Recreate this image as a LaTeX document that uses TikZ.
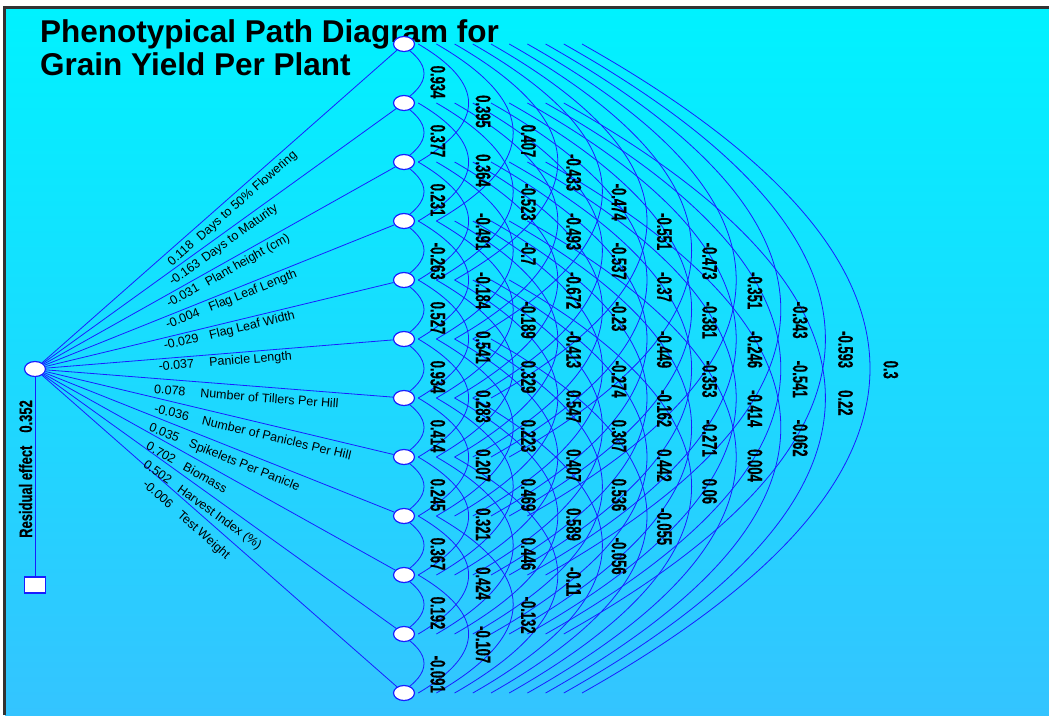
\documentclass[tikz,border=0pt]{standalone}
\usepackage{fontspec}
\setmainfont{Liberation Sans}
\newfontfamily\corrfont[FakeStretch=0.62,FakeBold=0.4]{Liberation Sans}
\newfontfamily\resfont[FakeStretch=0.72,FakeBold=0.4]{Liberation Sans}
\usetikzlibrary{shapes.geometric}
\definecolor{skytop}{RGB}{0,242,255}
\definecolor{skybot}{RGB}{52,196,255}
\definecolor{pathblue}{RGB}{25,30,255}
\pgfdeclarelayer{back}
\pgfdeclarelayer{wires}
\pgfsetlayers{back,wires,main}

\begin{document}
\begin{tikzpicture}[x=1pt,y=1pt,
    trait/.style={ellipse,draw=pathblue,fill=white,line width=1.2pt,
      minimum width=21pt,minimum height=15pt,inner sep=0pt},
    resid/.style={rectangle,draw=pathblue,fill=white,line width=1.2pt,
      minimum width=21pt,minimum height=16pt,inner sep=0pt},
    corr/.style={draw=pathblue,line width=0.8pt},
    corrlab/.style={rotate=-90,anchor=west,inner sep=0pt,
      font=\corrfont\bfseries\fontsize{21}{23}\selectfont},
    pathlab/.style={sloped,anchor=north west,inner xsep=0pt,
      font=\fontsize{12.5}{15}\selectfont}]
  \useasboundingbox (0,0) rectangle (1049,-715);
  \begin{pgfonlayer}{back}
    \fill[white] (0,0) rectangle (1049,-715);
    \shade[top color=skytop,bottom color=skybot] (5,-8) rectangle (1049,-715);
    \draw[line width=2.5pt,black!80] (4.5,-715) -- (4.5,-7.5) -- (1049,-7.5);
    \node[anchor=base west,inner sep=0pt,font=\bfseries\fontsize{31.5}{36}\selectfont]
      (title1) at (40,-42) {Phenotypical Path Diagram for};
    \node[anchor=base west,inner sep=0pt,font=\bfseries\fontsize{31.5}{36}\selectfont]
      (title2) at (40,-75) {Grain Yield Per Plant};
  \end{pgfonlayer}

  % grain yield and residual
  \node[trait] (L) at (35,-369) {};
  \node[resid] (R) at (35,-585) {};
  \node[rotate=90,anchor=base west,inner sep=0pt,
    font=\resfont\bfseries\fontsize{18}{20}\selectfont]
    (restext) at (32,-538) {Residual effect\hspace{13pt}0.352};

  % the twelve traits
  \foreach \i in {1,...,12}
    \node[trait] (T\i) at (404,{-44-59*(\i-1)}) {};

  \begin{pgfonlayer}{wires}
    \draw[corr] (L) -- (R);
    \foreach \i in {1,...,12}
      \draw[corr] (L) -- (T\i);
  \end{pgfonlayer}

  % direct effects
  \foreach \coef/\name/\pa/\pb/\gap [count=\i] in {
      0.118/Days to 50\% Flowering/0.347/0.425/4.5pt,
      -0.163/Days to Maturity/0.352/0.44/4pt,
      -0.031/Plant height (cm)/0.347/0.452/3.5pt,
      -0.004/Flag Leaf Length/0.347/0.463/3pt,
      -0.029/Flag Leaf Width/0.344/0.467/3pt,
      -0.037/Panicle Length/0.333/0.47/2.5pt,
      0.078/Number of Tillers Per Hill/0.325/0.45/6pt,
      -0.036/Number of Panicles Per Hill/0.33/0.46/6pt,
      0.035/Spikelets Per Panicle/0.322/0.43/6.5pt,
      0.702/Biomass/0.32/0.42/7pt,
      0.502/Harvest Index (\%)/0.317/0.41/7.5pt,
      -0.006/Test Weight/0.32/0.415/8pt}
    \path (L.center) -- (T\i.center)
      node[pathlab,inner ysep=\gap,pos=\pa] {\coef}
      node[pathlab,inner ysep=\gap,pos=\pb] {\name};

  % correlations, one column per distance
  \foreach \vals [count=\k] in {
      {0.934,0.377,0.231,-0.263,0.527,0.934,0.414,0.245,0.367,0.192,-0.091},
      {0.395,0.364,-0.491,-0.184,0.541,0.283,0.207,0.321,0.424,-0.107},
      {0.407,-0.523,-0.7,-0.189,0.329,0.223,0.469,0.446,-0.132},
      {-0.433,-0.493,-0.672,-0.413,0.547,0.407,0.589,-0.11},
      {-0.474,-0.537,-0.23,-0.274,0.307,0.536,-0.056},
      {-0.551,-0.37,-0.449,-0.162,0.442,-0.055},
      {-0.473,-0.381,-0.353,-0.271,0.06},
      {-0.351,-0.246,-0.414,0.004},
      {-0.343,-0.541,-0.062},
      {-0.593,0.22},
      {0.3}}
    \foreach \v [count=\i] in \vals {
      \pgfmathtruncatemacro\j{\i+\k}
      \pgfmathsetmacro\arcoff{18.2*\k-22.2}
      \pgfmathsetmacro\arcdx{4/3*(26.4*\k-2.4)}
      \pgfmathsetmacro\arcdy{59*\k/3}
      \begin{pgfonlayer}{wires}
        \draw[corr] ([xshift=\arcoff pt]T\i.center)
          .. controls +(\arcdx,-\arcdy) and +(\arcdx,\arcdy) ..
          ([xshift=\arcoff pt]T\j.center);
      \end{pgfonlayer}
      \node[corrlab] (r\i-\j) at ({392.5+45.3*\k},{23-59*\i-29.5*\k}) {\v};
    }
\end{tikzpicture}
\end{document}
